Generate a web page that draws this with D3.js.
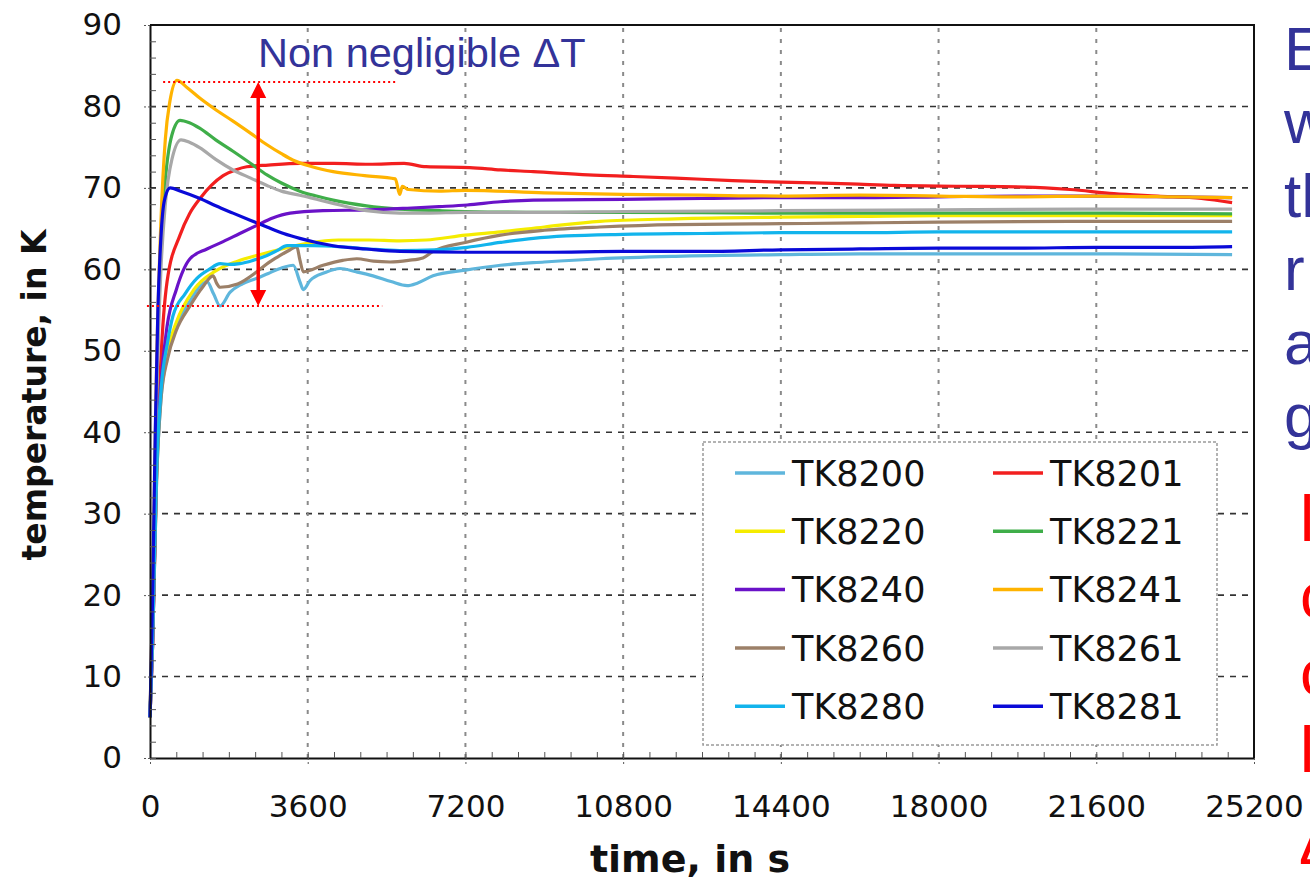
<!DOCTYPE html>
<html>
<head>
<meta charset="utf-8">
<script src="https://cdn.jsdelivr.net/npm/d3@7"></script>
<style>
body { margin: 0; background: #fff; overflow: hidden; }
</style>
</head>
<body>
<div id="plot"></div>
<script>
//Series: [time in s, temperature in K]
const tk8200 = [[0,5],[60,14],[150,34],[250,44],[400,49.5],[600,53],[900,56],[1150,58],[1300,58.5],[1450,57],[1600,55.5],[1830,57.2],[2100,58.2],[2440,58.9],[2700,59.5],[2970,60.1],[3270,60.5],[3420,58.5],[3500,57.5],[3650,58.6],[4000,59.6],[4340,60.1],[4700,59.7],[5090,59.2],[5500,58.5],[5870,58],[6100,58.3],[6460,59.2],[7200,59.9],[8000,60.5],[9000,60.9],[10270,61.3],[12000,61.6],[14400,61.8],[16200,61.9],[18000,61.9],[21600,61.9],[24700,61.8]];
const tk8201 = [[0,5],[60,14],[150,35],[250,49],[390,58.5],[685,64.2],[900,66.8],[1142,68.7],[1400,70.3],[1670,71.5],[1950,72.2],[2210,72.6],[2700,72.8],[3420,73],[4200,73],[5000,72.9],[5800,73],[6300,72.6],[7300,72.5],[8000,72.2],[8750,72],[10000,71.6],[11030,71.4],[12000,71.2],[13300,70.9],[14400,70.7],[15980,70.5],[17000,70.3],[18500,70.2],[20000,70.1],[21000,69.8],[22000,69.3],[23000,69],[24000,68.7],[24700,68.2]];
const tk8220 = [[0,5],[60,15],[150,35],[250,45],[400,50],[600,53.5],[1000,57.5],[1500,59.8],[2000,61],[2500,61.8],[3000,62.5],[3600,63.2],[4300,63.6],[5000,63.6],[5700,63.5],[6300,63.6],[7200,64.2],[8000,64.6],[9000,65.2],[10270,65.9],[12000,66.2],[14400,66.4],[16200,66.5],[18000,66.6],[21600,66.6],[24700,66.6]];
const tk8221 = [[0,5],[60,17],[150,45],[250,63],[350,71],[500,76.5],[685,78.3],[900,78],[1142,77.3],[1500,75.9],[1895,74.5],[2300,73],[2670,71.6],[3000,70.6],[3420,69.6],[3800,69],[4180,68.5],[4940,67.8],[5700,67.4],[6600,67.2],[7200,67.1],[9000,67],[10800,67],[14400,66.9],[18000,66.9],[21600,66.9],[24700,66.8]];
const tk8240 = [[0,5],[60,14],[150,36],[250,46],[390,53],[600,57.5],[913,61.3],[1300,62.5],[1670,63.4],[2050,64.4],[2440,65.4],[2800,66.3],[3200,66.9],[3950,67.2],[5000,67.3],[5870,67.5],[6600,67.7],[7240,67.9],[8000,68.3],[8750,68.5],[10800,68.6],[12600,68.7],[14400,68.8],[16200,68.8],[18000,68.9],[19800,69],[21600,69],[23400,68.9],[24700,68.8]];
const tk8241 = [[0,5],[60,20],[150,48],[250,66],[350,76],[450,80.5],[616,83.2],[850,82.3],[1142,81],[1500,79.6],[1895,78.2],[2300,76.7],[2670,75.3],[3000,74.2],[3270,73.4],[3700,72.6],[4180,72],[4900,71.5],[5600,71.1],[5700,69.2],[5760,70.2],[5900,69.8],[6600,69.6],[7200,69.7],[9000,69.4],[10800,69.2],[12600,69.1],[14400,69],[16200,69.1],[18000,69],[19800,68.9],[21600,69],[23400,68.9],[24700,68.8]];
const tk8260 = [[0,5],[60,14],[150,34],[250,44],[400,49],[600,52.5],[913,55.5],[1200,57.8],[1440,59.2],[1520,58.3],[1600,57.8],[2000,58.2],[2440,59.7],[2700,60.8],[2970,61.7],[3200,62.4],[3350,62.8],[3420,61.2],[3500,59.7],[3950,60.5],[4400,61.1],[4720,61.3],[5100,61],[5480,60.9],[5900,61.1],[6230,61.4],[6460,62.2],[7200,63.3],[8000,64.2],[9000,64.8],[10270,65.2],[12000,65.5],[14400,65.6],[16200,65.7],[18000,65.8],[21600,65.9],[24700,65.9]];
const tk8261 = [[0,5],[60,17],[150,44],[250,60],[350,68],[500,73.5],[708,75.9],[900,75.6],[1142,74.9],[1500,73.5],[1895,72.2],[2300,71.2],[2670,70.3],[3000,69.6],[3420,69.1],[3800,68.6],[4180,68.1],[4940,67.2],[5700,66.9],[6300,66.9],[7200,67],[9000,67],[10800,67.1],[14400,67.2],[18000,67.3],[21600,67.4],[24700,67.4]];
const tk8280 = [[0,5],[60,15],[150,35],[250,45],[400,51],[525,54.3],[800,57],[1070,58.9],[1350,60],[1600,60.7],[1800,60.6],[2050,60.7],[2350,61.1],[2670,61.7],[2900,62.3],[3130,62.9],[3720,62.9],[4300,62.8],[5000,62.5],[5700,62.3],[6500,62.4],[7240,62.7],[8000,63.3],[8750,63.8],[9500,64.1],[10800,64.3],[12600,64.4],[14400,64.5],[16200,64.5],[18000,64.6],[19800,64.6],[21600,64.6],[23400,64.6],[24700,64.6]];
const tk8281 = [[0,5],[60,20],[120,40],[180,55],[250,64],[330,68.5],[460,70],[700,69.6],[1142,68.7],[1500,67.8],[1895,66.9],[2300,66],[2670,65.2],[3050,64.4],[3420,63.8],[3800,63.3],[4180,62.9],[4940,62.5],[5710,62.2],[7200,62.1],[9000,62.1],[10800,62.2],[12600,62.2],[14400,62.4],[16200,62.5],[18000,62.6],[19800,62.6],[21600,62.7],[23400,62.7],[24700,62.8]];

//Names in legend order, and the matching data
const seriesNames = ["TK8200", "TK8201", "TK8220", "TK8221", "TK8240", "TK8241", "TK8260", "TK8261", "TK8280", "TK8281"];
const seriesData = [tk8200, tk8201, tk8220, tk8221, tk8240, tk8241, tk8260, tk8261, tk8280, tk8281];

//Ticks
const xTicks = [0, 3600, 7200, 10800, 14400, 18000, 21600, 25200];
const yTicks = [0, 10, 20, 30, 40, 50, 60, 70, 80, 90];

//Delta T annotation (temperatures and time spans)
const deltaTop = 83;
const deltaBottom = 55.5;
const deltaTopSpan = [300, 5650];
const deltaBottomSpan = [-70, 5300];
const deltaArrowTime = 2470;

//Text cut off at the right edge
const blueLines = ["E", "w", "th", "r", "a", "g"];
const redLines = ["l", "c", "c", "l"];

//Colors
const colors = {
    TK8200: "#5fb6dc", TK8201: "#f21f1f", TK8220: "#f5ec00", TK8221: "#3fae49",
    TK8240: "#6a12c8", TK8241: "#ffb300", TK8260: "#9c8068", TK8261: "#a8a8a8",
    TK8280: "#12b4ec", TK8281: "#0a0ad8"
};

const w = 1310;
const h = 880;
const svg = d3.select("#plot")
    .append("svg")
    .attr("width", w)
    .attr("height", h);

const x = d3.scaleLinear().domain([0, 25200]).range([150, 1254]);
const y = d3.scaleLinear().domain([0, 90]).range([758, 25]);

//Horizontal dashed grid
svg.append("g")
    .selectAll("line")
    .data(yTicks.filter(d => d > 0 && d < 90))
    .join("line")
    .attr("x1", x(0)).attr("x2", x(25200))
    .attr("y1", d => y(d)).attr("y2", d => y(d))
    .attr("stroke", "#333")
    .attr("stroke-width", 1.6)
    .attr("stroke-dasharray", "6,6");

//Vertical dotted grid
svg.append("g")
    .selectAll("line")
    .data(xTicks.filter(d => d > 0 && d < 25200))
    .join("line")
    .attr("x1", d => x(d)).attr("x2", d => x(d))
    .attr("y1", y(0)).attr("y2", y(90))
    .attr("stroke", "#8a8a8a")
    .attr("stroke-width", 2)
    .attr("stroke-dasharray", "4,7");

//Series lines
const line = d3.line()
    .x(d => x(d[0]))
    .y(d => y(d[1]))
    .curve(d3.curveMonotoneX);

svg.append("g")
    .selectAll("path")
    .data(seriesData)
    .join("path")
    .attr("d", line)
    .attr("fill", "none")
    .attr("stroke", (d, i) => colors[seriesNames[i]])
    .attr("stroke-width", 3.2)
    .attr("stroke-linejoin", "round");

//Frame: top and right
svg.append("path")
    .attr("d", `M${x(0)},${y(90)}H${x(25200)}V${y(0)}`)
    .attr("fill", "none")
    .attr("stroke", "#111")
    .attr("stroke-width", 2);

//Axes
const yAxis = d3.axisLeft(y).tickValues(yTicks).tickSize(8).tickPadding(20).tickSizeOuter(0);
const gy = svg.append("g").attr("transform", `translate(${x(0)},0)`).call(yAxis);
gy.selectAll("text").style("font-family", "DejaVu Sans").style("font-size", "31px").attr("fill", "#111");
gy.selectAll("line").attr("stroke", "#555").attr("stroke-dasharray", "2,2");
gy.select(".domain").attr("stroke", "#111").attr("stroke-width", 2);

const xAxis = d3.axisBottom(x).tickValues(xTicks).tickFormat(d3.format("d")).tickSize(8).tickPadding(29).tickSizeOuter(0);
const gx = svg.append("g").attr("transform", `translate(0,${y(0)})`).call(xAxis);
gx.selectAll("text").style("font-family", "DejaVu Sans").style("font-size", "31px").attr("fill", "#111");
gx.selectAll("line").attr("stroke", "#555").attr("stroke-dasharray", "2,2");
gx.select(".domain").attr("stroke", "#111").attr("stroke-width", 2);

//Minor ticks inside the plot
const yMinor = d3.axisLeft(y).tickValues(d3.range(0, 90, 2)).tickSize(-6).tickFormat("").tickSizeOuter(0);
svg.append("g").attr("transform", `translate(${x(0)},0)`).call(yMinor)
    .call(g => g.select(".domain").remove())
    .selectAll("line").attr("stroke", "#555");
const xMinor = d3.axisBottom(x).tickValues(d3.range(600, 25200, 600)).tickSize(-6).tickFormat("").tickSizeOuter(0);
svg.append("g").attr("transform", `translate(0,${y(0)})`).call(xMinor)
    .call(g => g.select(".domain").remove())
    .selectAll("line").attr("stroke", "#555");

//Axis titles
svg.append("text")
    .attr("transform", "translate(46,395) rotate(-90)")
    .attr("text-anchor", "middle")
    .style("font-family", "DejaVu Sans")
    .style("font-weight", "bold")
    .style("font-size", "33px")
    .attr("fill", "#111")
    .text("temperature, in K");

svg.append("text")
    .attr("x", 690)
    .attr("y", 872)
    .attr("text-anchor", "middle")
    .style("font-family", "DejaVu Sans")
    .style("font-weight", "bold")
    .style("font-size", "38px")
    .attr("fill", "#111")
    .text("time, in s");

//Legend
const legend = svg.append("g");
legend.append("rect")
    .attr("x", 703).attr("y", 442)
    .attr("width", 514).attr("height", 303)
    .attr("fill", "#fff")
    .attr("stroke", "#9a9a9a")
    .attr("stroke-width", 1.5)
    .attr("stroke-dasharray", "3,2");

const legItems = legend.selectAll("g.item")
    .data(seriesNames)
    .join("g")
    .attr("class", "item")
    .attr("transform", (d, i) => `translate(${i % 2 === 0 ? 735 : 993},${473 + Math.floor(i / 2) * 58.3})`);
legItems.append("line")
    .attr("x1", 0).attr("x2", 50)
    .attr("stroke", d => colors[d])
    .attr("stroke-width", 3.5);
legItems.append("text")
    .attr("x", 57)
    .attr("dy", "0.36em")
    .style("font-family", "DejaVu Sans")
    .style("font-size", "35px")
    .attr("fill", "#111")
    .text(d => d);

//Delta T annotation
const ann = svg.append("g");
ann.append("line")
    .attr("x1", x(deltaTopSpan[0])).attr("x2", x(deltaTopSpan[1]))
    .attr("y1", y(deltaTop)).attr("y2", y(deltaTop))
    .attr("stroke", "#ff0000").attr("stroke-width", 2).attr("stroke-dasharray", "2,3");
ann.append("line")
    .attr("x1", x(deltaBottomSpan[0])).attr("x2", x(deltaBottomSpan[1]))
    .attr("y1", y(deltaBottom)).attr("y2", y(deltaBottom))
    .attr("stroke", "#ff0000").attr("stroke-width", 2).attr("stroke-dasharray", "2,3");

const ax = x(deltaArrowTime);
const ay1 = y(deltaTop);
const ay2 = y(deltaBottom);
ann.append("line")
    .attr("x1", ax).attr("x2", ax)
    .attr("y1", ay1 + 10).attr("y2", ay2 - 10)
    .attr("stroke", "#ff0000").attr("stroke-width", 3.5);
ann.append("path")
    .attr("d", `M${ax},${ay1}l-8,16h16z M${ax},${ay2}l-8,-16h16z`)
    .attr("fill", "#ff0000");

svg.append("text")
    .attr("x", 258)
    .attr("y", 67)
    .style("font-family", "Liberation Sans")
    .style("font-size", "41.5px")
    .attr("fill", "#333399")
    .text("Non negligible \u0394T");

//Side text, clipped by the picture edge
svg.append("g")
    .selectAll("text")
    .data(blueLines)
    .join("text")
    .attr("x", 1284)
    .attr("y", (d, i) => 70 + i * 73.4)
    .style("font-family", "Liberation Sans")
    .style("font-size", "62px")
    .attr("fill", "#333399")
    .text(d => d);

svg.append("g")
    .selectAll("text")
    .data(redLines)
    .join("text")
    .attr("x", 1300)
    .attr("y", (d, i) => 541 + i * 77)
    .style("font-family", "Liberation Sans")
    .style("font-size", "64px")
    .attr("fill", "#ff0000")
    .text(d => d);

svg.append("text")
    .attr("x", 1299)
    .attr("y", 864)
    .style("font-family", "Liberation Sans")
    .style("font-size", "62px")
    .attr("fill", "#ff0000")
    .text("\u0394");
</script>
</body>
</html>
